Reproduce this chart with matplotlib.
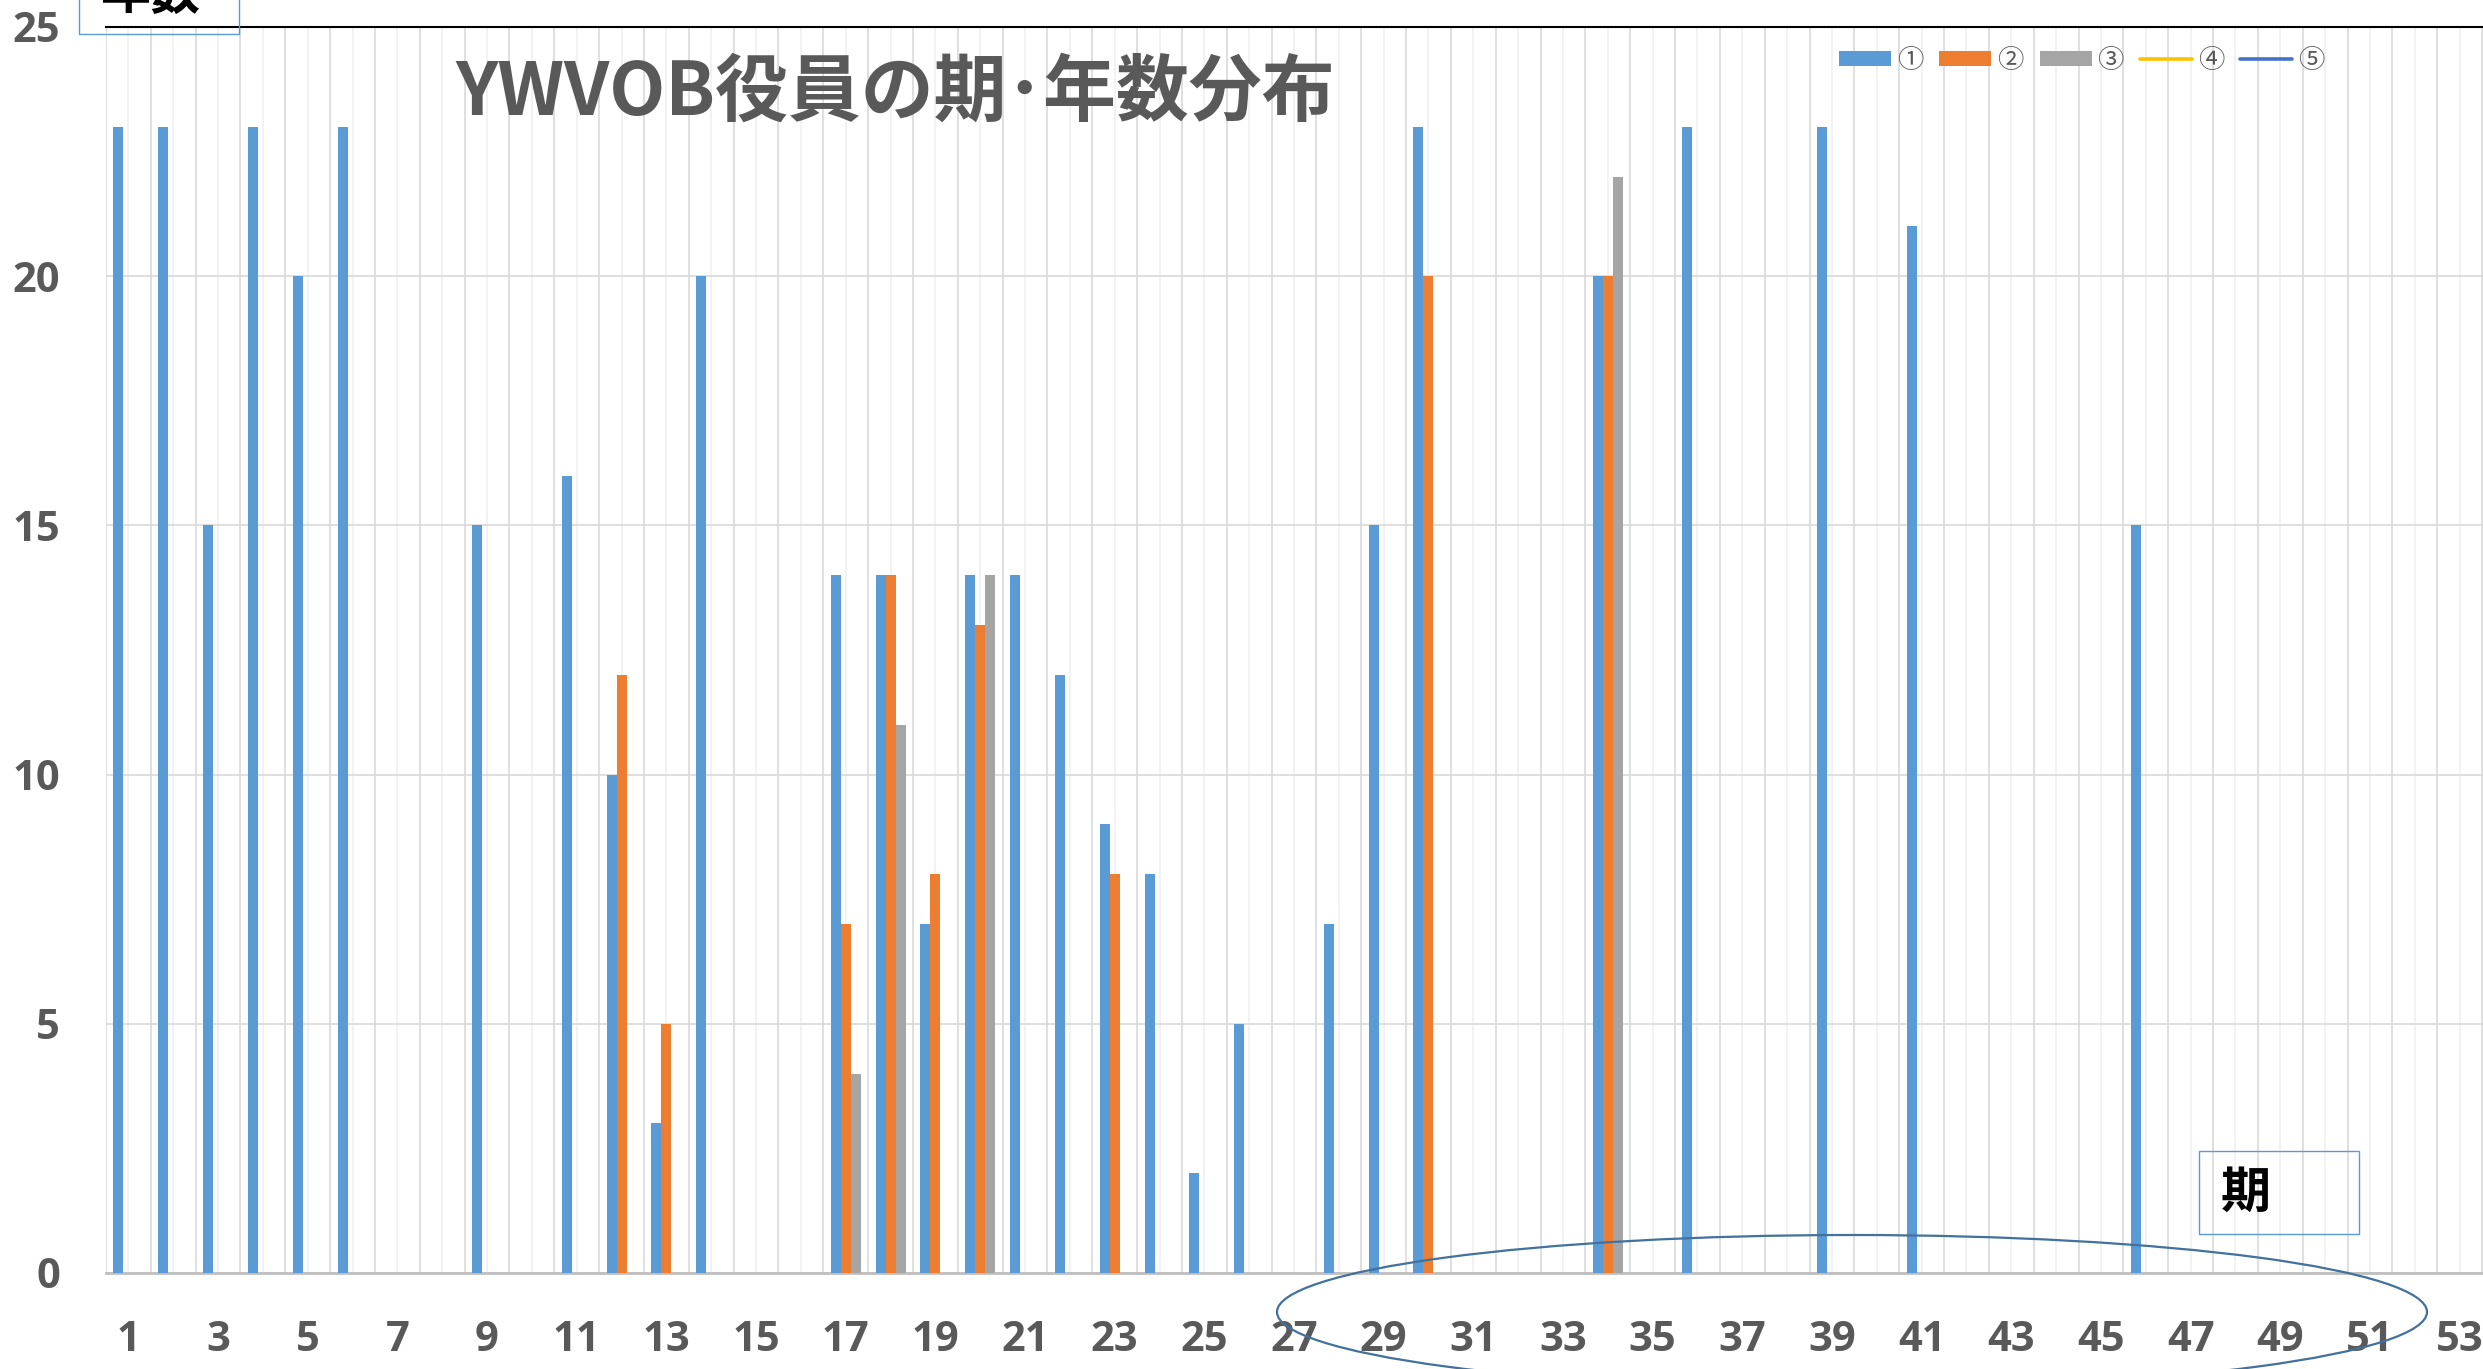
import matplotlib
matplotlib.use("Agg")
import matplotlib.pyplot as plt
from matplotlib.patches import Ellipse, Rectangle
import numpy as np

# ---- data ----
periods = list(range(1, 54))
tick_labels = [str(p) if p % 2 == 1 else "" for p in periods]
series_names = ["①", "②", "③", "④", "⑤"]

# values per period (0 = no bar)
s1 = {1: 23, 2: 23, 3: 15, 4: 23, 5: 20, 6: 23, 9: 15, 11: 16, 12: 10, 13: 3,
      14: 20, 17: 14, 18: 14, 19: 7, 20: 14, 21: 14, 22: 12, 23: 9, 24: 8,
      25: 2, 26: 5, 28: 7, 29: 15, 30: 23, 34: 20, 36: 23, 39: 23, 41: 21, 46: 15}
s2 = {12: 12, 13: 5, 17: 7, 18: 14, 19: 8, 20: 13, 23: 8, 30: 20, 34: 20}
s3 = {17: 4, 18: 11, 20: 14, 34: 22}
s4 = []
s5 = []

bar_colors = ["#5B9BD5", "#ED7D31", "#A5A5A5"]
line_colors = ["#FFC000", "#4472C4"]

W, H = 2483, 1369
DPI = 100
fig = plt.figure(figsize=(W / DPI, H / DPI), dpi=DPI)

ax = fig.add_axes([106 / W, (H - 1273) / H, (W - 106) / W, (1273 - 27) / H])

x = np.array(periods, dtype=float)
bw = 0.223
handles = []
for i, (s, c) in enumerate(zip([s1, s2, s3], bar_colors)):
    vals = np.array([s.get(p, 0) for p in periods], dtype=float)
    h = ax.bar(x + (i - 1) * bw, vals, width=bw, color=c, edgecolor="none", zorder=3,
               label=series_names[i])
    handles.append(h)
for j, (s, c) in enumerate(zip([s4, s5], line_colors)):
    (ln,) = ax.plot(s, s, color=c, lw=2.6, solid_capstyle="round", label=series_names[3 + j])
    handles.append(ln)

ax.set_xlim(0.5, 0.5 + (W - 106) / 44.83)
ax.set_ylim(0, 25)

# gridlines
ax.set_xticks(periods)
ax.set_xticklabels(tick_labels)
ax.set_xticks(np.arange(0.5, 54.5, 1.0), minor=True)
ax.set_yticks([0, 5, 10, 15, 20, 25])
ax.grid(axis="x", which="major", color="#F0F0F0", lw=1.2, zorder=0)
ax.grid(axis="x", which="minor", color="#D9D9D9", lw=1.2, zorder=0)
ax.grid(axis="y", which="major", color="#D9D9D9", lw=1.2, zorder=0)
ax.set_axisbelow(True)

ax.tick_params(axis="both", which="both", length=0)
ax.tick_params(axis="x", pad=34)
ax.tick_params(axis="y", pad=33)
for lab in ax.get_xticklabels() + ax.get_yticklabels():
    lab.set_fontfamily(["Open Sans", "DejaVu Sans"])
    lab.set_fontweight("bold")
    lab.set_fontsize(30)
    lab.set_color("#595959")

ax.spines["left"].set_visible(False)
ax.spines["right"].set_visible(False)
ax.spines["top"].set_color("black")
ax.spines["top"].set_linewidth(1.5)
ax.spines["bottom"].set_color("#BFBFBF")
ax.spines["bottom"].set_linewidth(2)

# title
fig.text(895 / W, 1 - 93 / H, "YWVOB役員の期･年数分布", ha="center", va="center",
         fontsize=52.5, fontweight="bold", color="#595959",
         family=["Noto Sans CJK JP", "DejaVu Sans"])

# legend
fig.legend(handles=handles, labels=series_names, loc="center left",
           bbox_to_anchor=(1839 / W, 1 - 60 / H), bbox_transform=fig.transFigure,
           ncol=5, frameon=False, borderpad=0, borderaxespad=0,
           handlelength=1.97, handleheight=0.49, handletextpad=0.23, columnspacing=0.6,
           prop={"family": ["Noto Sans CJK JP", "DejaVu Sans"], "size": 19},
           labelcolor="#595959")

# axis title boxes
box_kw = dict(fill=False, edgecolor="#5B9BD5", lw=1.0, transform=fig.transFigure, clip_on=False)
fig.patches.append(Rectangle((79 / W, 1 - 34 / H), 160 / W, 90 / H, **box_kw))
fig.text(100 / W, 1 + 6 / H, "年数", ha="left", va="center", fontsize=36,
         fontweight="bold", color="black", family=["Noto Sans CJK JP", "DejaVu Sans"])
fig.patches.append(Rectangle((2199 / W, 1 - 1234 / H), 160 / W, 83 / H, **box_kw))
fig.text(2221 / W, 1 - 1193 / H, "期", ha="left", va="center", fontsize=36,
         fontweight="bold", color="black", family=["Noto Sans CJK JP", "DejaVu Sans"])

# ellipse
fig.patches.append(Ellipse((1852 / W, 1 - 1312 / H), 1150 / W, 154 / H, fill=False,
                           edgecolor="#41719C", lw=1.6, transform=fig.transFigure,
                           clip_on=False))

fig.savefig("out.png", dpi=DPI, facecolor="white")
